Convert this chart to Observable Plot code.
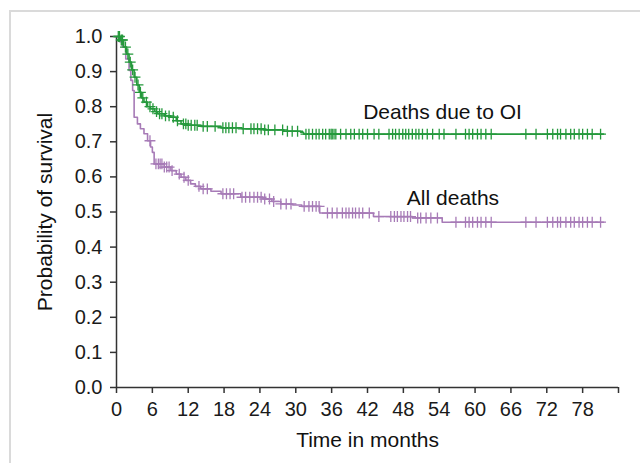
<!DOCTYPE html>
<html>
<head>
<meta charset="utf-8">
<script src="https://cdn.jsdelivr.net/npm/d3@7"></script>
<script src="https://cdn.jsdelivr.net/npm/@observablehq/plot@0.6"></script>
<style>
  html, body { margin: 0; padding: 0; background: #fff; }
  #wrap { position: relative; width: 640px; height: 463px; overflow: hidden; }
  #frame { position: absolute; left: 9px; top: 10px; right: -5px; bottom: -5px;
           border-left: 2px solid #dadada; border-top: 2px solid #dadada; pointer-events: none; }
  #wrap svg { position: absolute; left: 0; top: 0; }
</style>
</head>
<body>
<div id="wrap"><div id="frame"></div></div>
<script>
// ---- Data ----
// Deaths due to OI (green): step-function event times (months) and survival
const oiTimes = [0, 0.7, 1.2, 1.7, 2.1, 2.5, 2.95, 3.4, 3.8, 4.2, 4.6, 5.2, 5.7, 6.4, 6.9, 8.0, 9.1, 10.0, 10.8, 12.0, 14.1, 17.5, 21.0, 24.7, 28.0, 30.8, 31.3, 81.5];
const oiSurv  = [1.0, 0.99, 0.97, 0.95, 0.927, 0.905, 0.884, 0.862, 0.841, 0.825, 0.813, 0.80, 0.794, 0.786, 0.78, 0.774, 0.77, 0.76, 0.751, 0.747, 0.744, 0.740, 0.737, 0.734, 0.730, 0.727, 0.722, 0.722];
const oiCensored = [0.3, 0.5, 0.8, 1.0, 1.5, 1.9, 2.3, 2.7, 3.1, 3.6, 4.0, 4.4, 5.0, 5.6, 6.1, 6.7, 7.2, 7.6, 8.2, 8.8, 9.5, 10.2, 11.2, 11.6, 12.0, 12.5, 13.1, 13.5, 14.5, 15.2, 16.5, 17.8, 18.3, 18.8, 19.4, 20.0, 21.2, 22.5, 23.0, 23.6, 24.2, 24.8, 25.4, 26.5, 27.8, 28.6, 29.4, 30.3, 31.7, 32.2, 32.8, 33.4, 33.9, 34.5, 35.0, 35.6, 35.9, 36.1, 36.4, 36.7, 37.5, 38.4, 39.2, 39.8, 40.6, 41.2, 42.0, 43.1, 43.9, 45.6, 46.2, 46.7, 47.3, 47.9, 48.4, 48.9, 49.5, 50.1, 50.6, 51.2, 52.0, 52.9, 54.0, 54.8, 56.8, 58.4, 59.0, 59.6, 60.4, 61.0, 61.8, 62.7, 68.5, 70.2, 72.1, 73.0, 73.8, 74.3, 75.2, 76.0, 76.6, 77.4, 78.0, 78.8, 79.6, 81.0];

// All deaths (purple)
const allTimes = [0, 0.5, 1.0, 1.55, 2.1, 2.4, 2.7, 2.95, 3.5, 4.0, 4.6, 5.2, 5.7, 6.0, 6.3, 8.0, 9.1, 10.0, 10.8, 11.6, 12.4, 13.2, 14.1, 15.8, 17.5, 20.8, 24.5, 26.0, 27.5, 29.5, 31.0, 34.0, 43.0, 49.5, 54.5, 81.5];
const allSurv  = [1.0, 0.985, 0.97, 0.936, 0.903, 0.875, 0.846, 0.77, 0.751, 0.737, 0.723, 0.703, 0.685, 0.67, 0.637, 0.628, 0.618, 0.608, 0.599, 0.590, 0.580, 0.573, 0.566, 0.559, 0.552, 0.542, 0.537, 0.530, 0.523, 0.520, 0.516, 0.497, 0.487, 0.483, 0.471, 0.471];
const allCensored = [5.6, 6.6, 7.0, 7.3, 7.6, 8.0, 8.4, 8.8, 9.3, 10.5, 11.3, 12.0, 13.8, 14.5, 15.2, 17.8, 18.4, 19.0, 19.6, 21.0, 21.6, 22.3, 23.0, 23.6, 24.2, 24.8, 25.6, 26.3, 27.5, 28.4, 29.2, 31.4, 32.2, 32.8, 33.4, 33.9, 35.3, 36.1, 36.9, 37.8, 38.4, 38.9, 39.5, 40.0, 40.6, 41.2, 42.3, 43.9, 45.9, 46.5, 47.0, 47.6, 48.1, 48.7, 49.2, 50.4, 50.9, 51.8, 52.6, 53.7, 56.8, 58.4, 59.0, 59.6, 60.4, 61.0, 61.8, 62.7, 68.5, 70.2, 72.1, 73.0, 73.8, 74.3, 75.2, 76.0, 76.6, 77.4, 78.0, 78.8, 79.6, 81.0];

const xTicks = [0, 6, 12, 18, 24, 30, 36, 42, 48, 54, 60, 66, 72, 78, 84];
const xTickLabels = ["0", "6", "12", "18", "24", "30", "36", "42", "48", "54", "60", "66", "72", "78", ""];
const yTicks = [0, 0.1, 0.2, 0.3, 0.4, 0.5, 0.6, 0.7, 0.8, 0.9, 1.0];
const yTickLabels = ["0.0", "0.1", "0.2", "0.3", "0.4", "0.5", "0.6", "0.7", "0.8", "0.9", "1.0"];

const annLabels = ["Deaths due to OI", "All deaths"];
const annX = [54.55, 56.3];
const annY = [0.785, 0.540];

const xTitle = "Time in months";
const yTitle = "Probability of survival";

const GREEN = "#25993c";
const PURPLE = "#a77bb7";

// ---- Build tables ----
const toSteps = (ts, ss) => ts.map((t, i) => ({t, s: ss[i]}));
const stepAt = (ts, ss, t) => { let v = ss[0]; for (let i = 0; i < ts.length; i++) { if (ts[i] <= t) v = ss[i]; } return v; };
const oiLine = toSteps(oiTimes, oiSurv);
const allLine = toSteps(allTimes, allSurv);
const oiMarks = oiCensored.map(t => ({t, s: stepAt(oiTimes, oiSurv, t)}));
const allMarks = allCensored.map(t => ({t, s: stepAt(allTimes, allSurv, t)}));
const ann = annLabels.map((label, i) => ({label, x: annX[i], y: annY[i]}));

const FONT = "'Liberation Sans', Arial, Helvetica, sans-serif";

const chart = Plot.plot({
  width: 640,
  height: 463,
  marginLeft: 116,
  marginRight: 22,
  marginTop: 36,
  marginBottom: 76,
  x: {domain: [0, 84]},
  y: {domain: [0, 1]},
  style: {fontFamily: FONT, background: "transparent", color: "#1a1a1a"},
  marks: [
    Plot.axisX({ticks: xTicks, tickFormat: d => xTickLabels[xTicks.indexOf(d)], tickSize: 6, tickPadding: 8, fontSize: 20, strokeWidth: 1.5, stroke: "#333", label: null}),
    Plot.axisY({ticks: yTicks, tickFormat: d => yTickLabels[yTicks.findIndex(v => Math.abs(v - d) < 1e-9)], tickSize: 6, tickPadding: 8, fontSize: 20, strokeWidth: 1.5, stroke: "#333", label: null}),
    Plot.ruleY([0], {stroke: "#333", strokeWidth: 1.5}),
    Plot.ruleX([0], {stroke: "#333", strokeWidth: 1.5}),
    Plot.line(allLine, {x: "t", y: "s", curve: "step-after", stroke: PURPLE, strokeWidth: 1.6}),
    Plot.line(oiLine, {x: "t", y: "s", curve: "step-after", stroke: GREEN, strokeWidth: 1.6}),
    Plot.dot(allMarks, {x: "t", y: "s", symbol: "plus", r: 3.6, stroke: PURPLE, strokeWidth: 1.3}),
    Plot.dot(oiMarks, {x: "t", y: "s", symbol: "plus", r: 3.6, stroke: GREEN, strokeWidth: 1.3}),
    Plot.text(ann, {x: "x", y: "y", text: "label", fontSize: 21, fill: "#111"}),
    Plot.text([xTitle], {frameAnchor: "bottom", dy: 53, lineAnchor: "middle", textAnchor: "middle", fontSize: 21, fill: "#111"}),
    Plot.text([yTitle], {frameAnchor: "left", dx: -71, rotate: -90, lineAnchor: "middle", textAnchor: "middle", fontSize: 21, fill: "#111"})
  ]
});
document.getElementById("wrap").appendChild(chart);
</script>
</body>
</html>
